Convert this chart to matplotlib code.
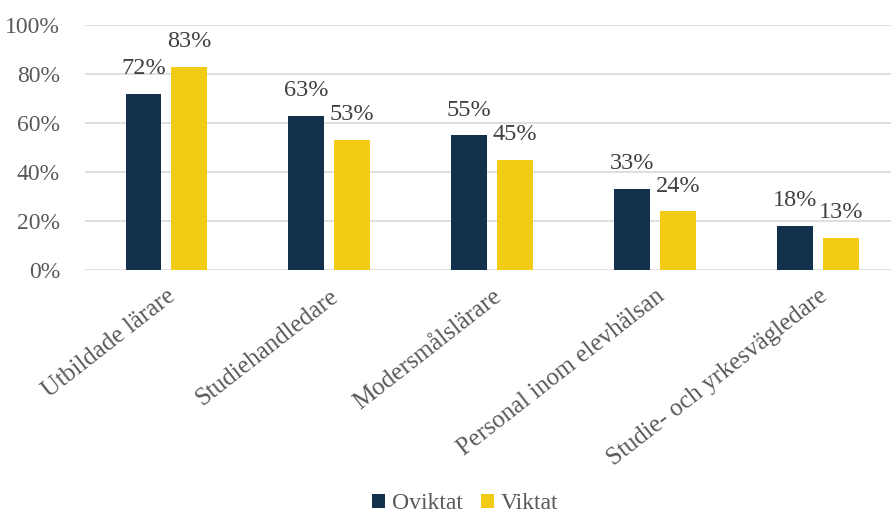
import matplotlib.pyplot as plt
import numpy as np

categories = ["Utbildade lärare", "Studiehandledare", "Modersmålslärare",
              "Personal inom elevhälsan", "Studie- och yrkesvägledare"]
oviktat = [72, 63, 55, 33, 18]
viktat = [83, 53, 45, 24, 13]

plt.rcParams['font.family'] = ['Liberation Serif', 'DejaVu Serif']

fig = plt.figure(figsize=(8.91, 5.15), dpi=100)
ax = fig.add_axes([0.0954, 0.4757, 0.9046, 0.4758])

x = np.arange(len(categories))
w = 0.22
off = 0.141
b1 = ax.bar(x - off, oviktat, w, color='#13304d', label='Oviktat', zorder=3)
b2 = ax.bar(x + off, viktat, w, color='#f2cb14', label='Viktat', zorder=3)

for bars in (b1, b2):
    for r in bars:
        ax.text(r.get_x() + r.get_width() / 2, r.get_height() + 6,
                f"{r.get_height():.0f}%", ha='center', va='bottom',
                fontsize=17.5, color='#404040')

ax.set_ylim(0, 100)
ax.set_xlim(-0.5, 4.45)
ax.set_yticks(range(0, 101, 20))
ax.set_yticklabels([f"{v}%" for v in range(0, 101, 20)])
ax.yaxis.grid(True, color='#d9d9d9', linewidth=1.2, zorder=0)
ax.set_xticks(x)
ax.set_xticklabels(categories, rotation=38, ha='right', va='top', rotation_mode='anchor')
ax.tick_params(axis='both', length=0, labelcolor='#595959')
ax.tick_params(axis='y', labelsize=17, pad=18)
ax.tick_params(axis='x', labelsize=18, pad=11)
for s in ax.spines.values():
    s.set_visible(False)

fig.legend(handles=[b1, b2], loc='lower center', bbox_to_anchor=(0.522, -0.04),
           ncol=2, frameon=False, fontsize=17, labelcolor='#595959',
           handlelength=0.55, handleheight=0.55, handletextpad=0.3, columnspacing=0.75)

fig.savefig('out.png', dpi=100)
